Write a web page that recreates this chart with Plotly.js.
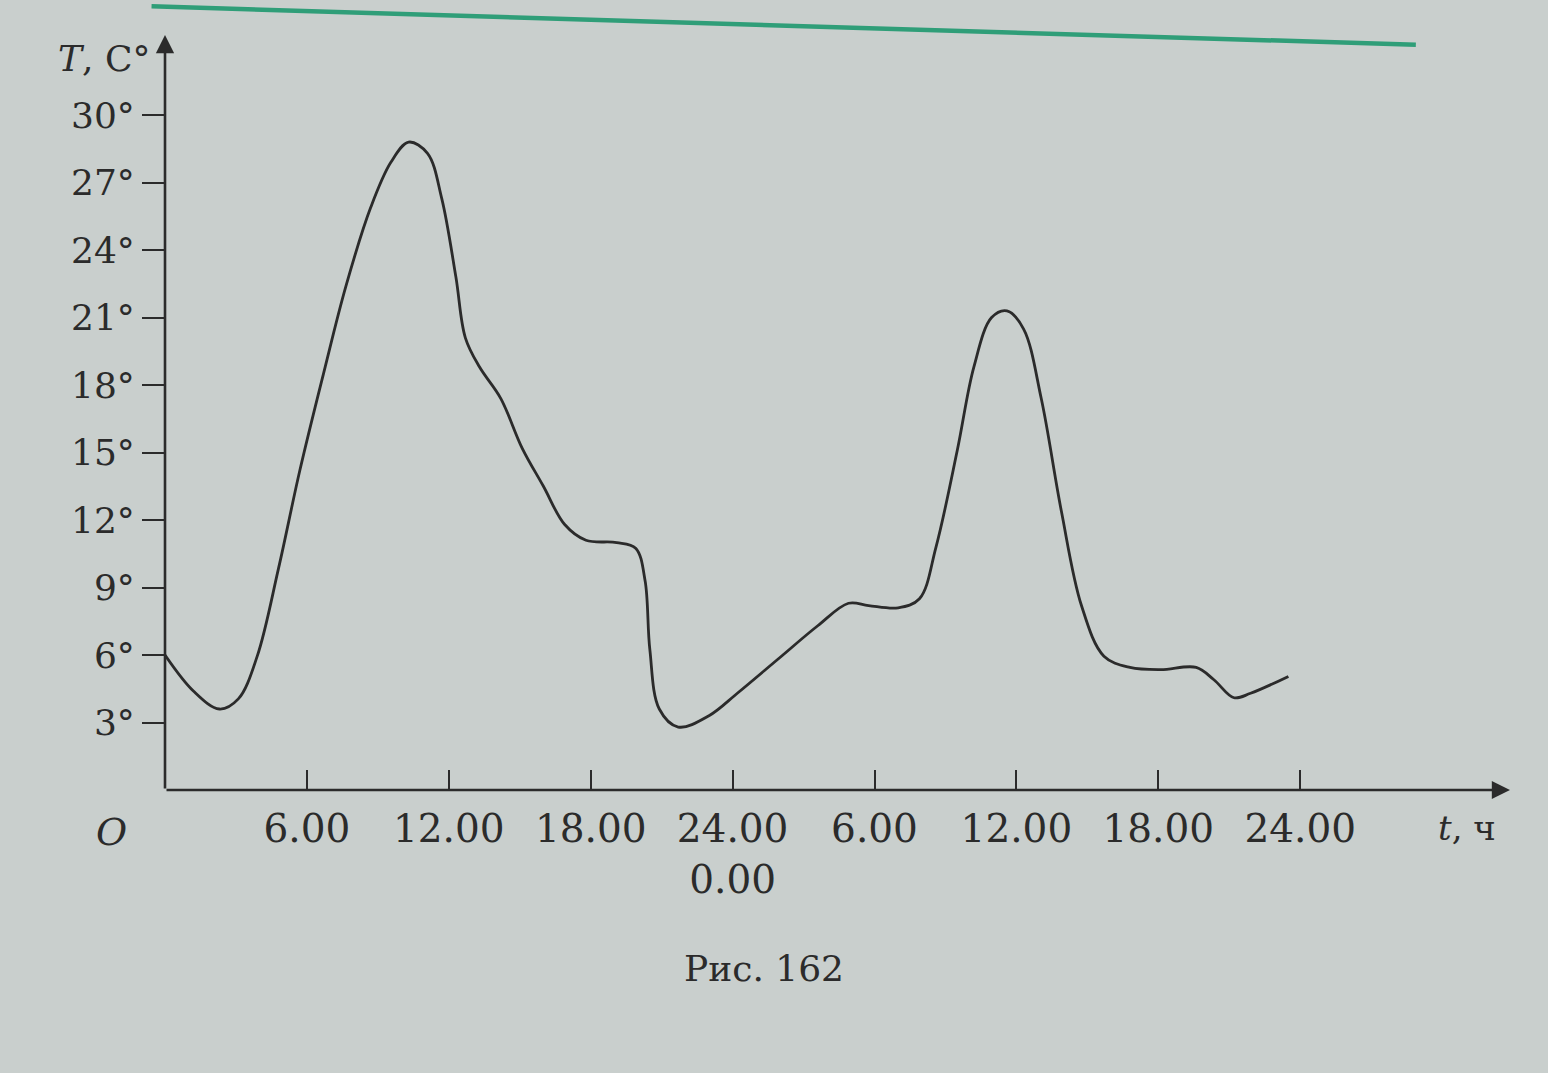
<!DOCTYPE html>
<html>
<head>
<meta charset="utf-8">
<script src="https://cdn.plot.ly/plotly-3.0.1.min.js"></script>
<style>
  html, body { margin: 0; padding: 0; background: #c9cfcd; }
  #chart { width: 1548px; height: 1073px; }
</style>
</head>
<body>
<div id="chart"></div>
<script>
// Time in hours over two days (0 … 48) and temperature in °C
const hours = [0, 1.2, 2.3, 3.1, 3.9, 4.8, 5.7, 6.7, 7.65, 8.7, 9.55, 10.3, 11.1, 11.7,
  12.3, 12.7, 13.3, 14.2, 15.1, 16.0, 16.9, 17.8, 19.1, 19.9, 20.3, 20.5, 20.9, 21.7,
  23.0, 24.2, 25.9, 27.6, 28.9, 29.75, 31.0, 31.9, 32.6, 33.5, 34.2, 34.95, 35.6, 36.3,
  37.05, 37.9, 38.75, 39.7, 40.8, 42.1, 43.6, 44.35, 45.2, 45.9, 47.5];
const temps = [6.0, 4.4, 3.6, 4.05, 5.95, 9.85, 14.2, 18.5, 22.4, 25.9, 27.9, 28.8, 28.3, 26.3,
  22.8, 20.1, 18.8, 17.4, 15.2, 13.5, 11.8, 11.1, 11.0, 10.75, 9.3, 6.25, 3.6, 2.8,
  3.3, 4.3, 5.8, 7.3, 8.3, 8.2, 8.1, 8.5, 10.8, 15.1, 18.8, 21.0, 21.3, 20.5,
  17.4, 12.4, 8.2, 5.95, 5.45, 5.35, 5.45, 4.9, 4.1, 4.3, 5.05];

const xTickVals = [6, 12, 18, 24, 30, 36, 42, 48];
const xTickText = ['6.00', '12.00', '18.00', '24.00<br>0.00', '6.00', '12.00', '18.00', '24.00'];
const yTickVals = [3, 6, 9, 12, 15, 18, 21, 24, 27, 30];
const yTickText = ['3°', '6°', '9°', '12°', '15°', '18°', '21°', '24°', '27°', '30°'];

const ink = '#2b2b2b';
const serif = 'DejaVu Serif, Liberation Serif, serif';
const xMax = 56.87, yMax = 33.56;

const trace = {
  x: hours, y: temps, type: 'scatter', mode: 'lines',
  line: { color: ink, width: 2.8, shape: 'spline', smoothing: 1 },
  hoverinfo: 'skip'
};

const layout = {
  width: 1548, height: 1073,
  margin: { l: 165, r: 38, t: 35, b: 283 },
  paper_bgcolor: '#c9cfcd', plot_bgcolor: 'rgba(0,0,0,0)',
  showlegend: false,
  xaxis: {
    range: [0, xMax], showgrid: false, zeroline: false, showline: false,
    tickvals: xTickVals, ticktext: xTickText,
    ticks: 'inside', ticklen: 20, tickwidth: 2, tickcolor: ink,
    tickfont: { family: serif, size: 39, color: ink },
    ticklabelstandoff: 12
  },
  yaxis: {
    range: [0, yMax], showgrid: false, zeroline: false, showline: false,
    tickvals: yTickVals, ticktext: yTickText,
    ticks: 'outside', ticklen: 22, tickwidth: 2, tickcolor: ink,
    tickfont: { family: serif, size: 36, color: ink },
    ticklabelstandoff: 0
  },
  shapes: [
    { type: 'line', xref: 'paper', yref: 'paper', x0: -0.01, y0: 1.038, x1: 0.93, y1: 0.987,
      line: { color: '#2f9e78', width: 4.5 } }
  ],
  annotations: [
    { x: xMax, y: 0, ax: 0, ay: 0, xref: 'x', yref: 'y', axref: 'x', ayref: 'y',
      text: '', showarrow: true, arrowhead: 2, arrowsize: 1.4, arrowwidth: 2.6, arrowcolor: ink },
    { x: 0, y: yMax, ax: 0, ay: 0, xref: 'x', yref: 'y', axref: 'x', ayref: 'y',
      text: '', showarrow: true, arrowhead: 2, arrowsize: 1.4, arrowwidth: 2.6, arrowcolor: ink },
    { xref: 'paper', yref: 'paper', x: -0.045, y: 0.969, xanchor: 'center', yanchor: 'middle',
      text: '<i>T</i>, C°', showarrow: false, font: { family: serif, size: 36, color: ink } },
    { xref: 'paper', yref: 'paper', x: 0.968, y: -0.05, xanchor: 'center', yanchor: 'middle',
      text: '<i>t</i>, ч', showarrow: false, font: { family: serif, size: 34, color: ink } },
    { xref: 'paper', yref: 'paper', x: -0.04, y: -0.055, xanchor: 'center', yanchor: 'middle',
      text: '<i>O</i>', showarrow: false, font: { family: serif, size: 38, color: ink } },
    { xref: 'paper', yref: 'paper', x: 0.445, y: -0.236, xanchor: 'center', yanchor: 'middle',
      text: 'Рис. 162', showarrow: false, font: { family: serif, size: 36, color: ink } }
  ]
};

Plotly.newPlot('chart', [trace], layout, { staticPlot: true, displayModeBar: false });
</script>
</body>
</html>
